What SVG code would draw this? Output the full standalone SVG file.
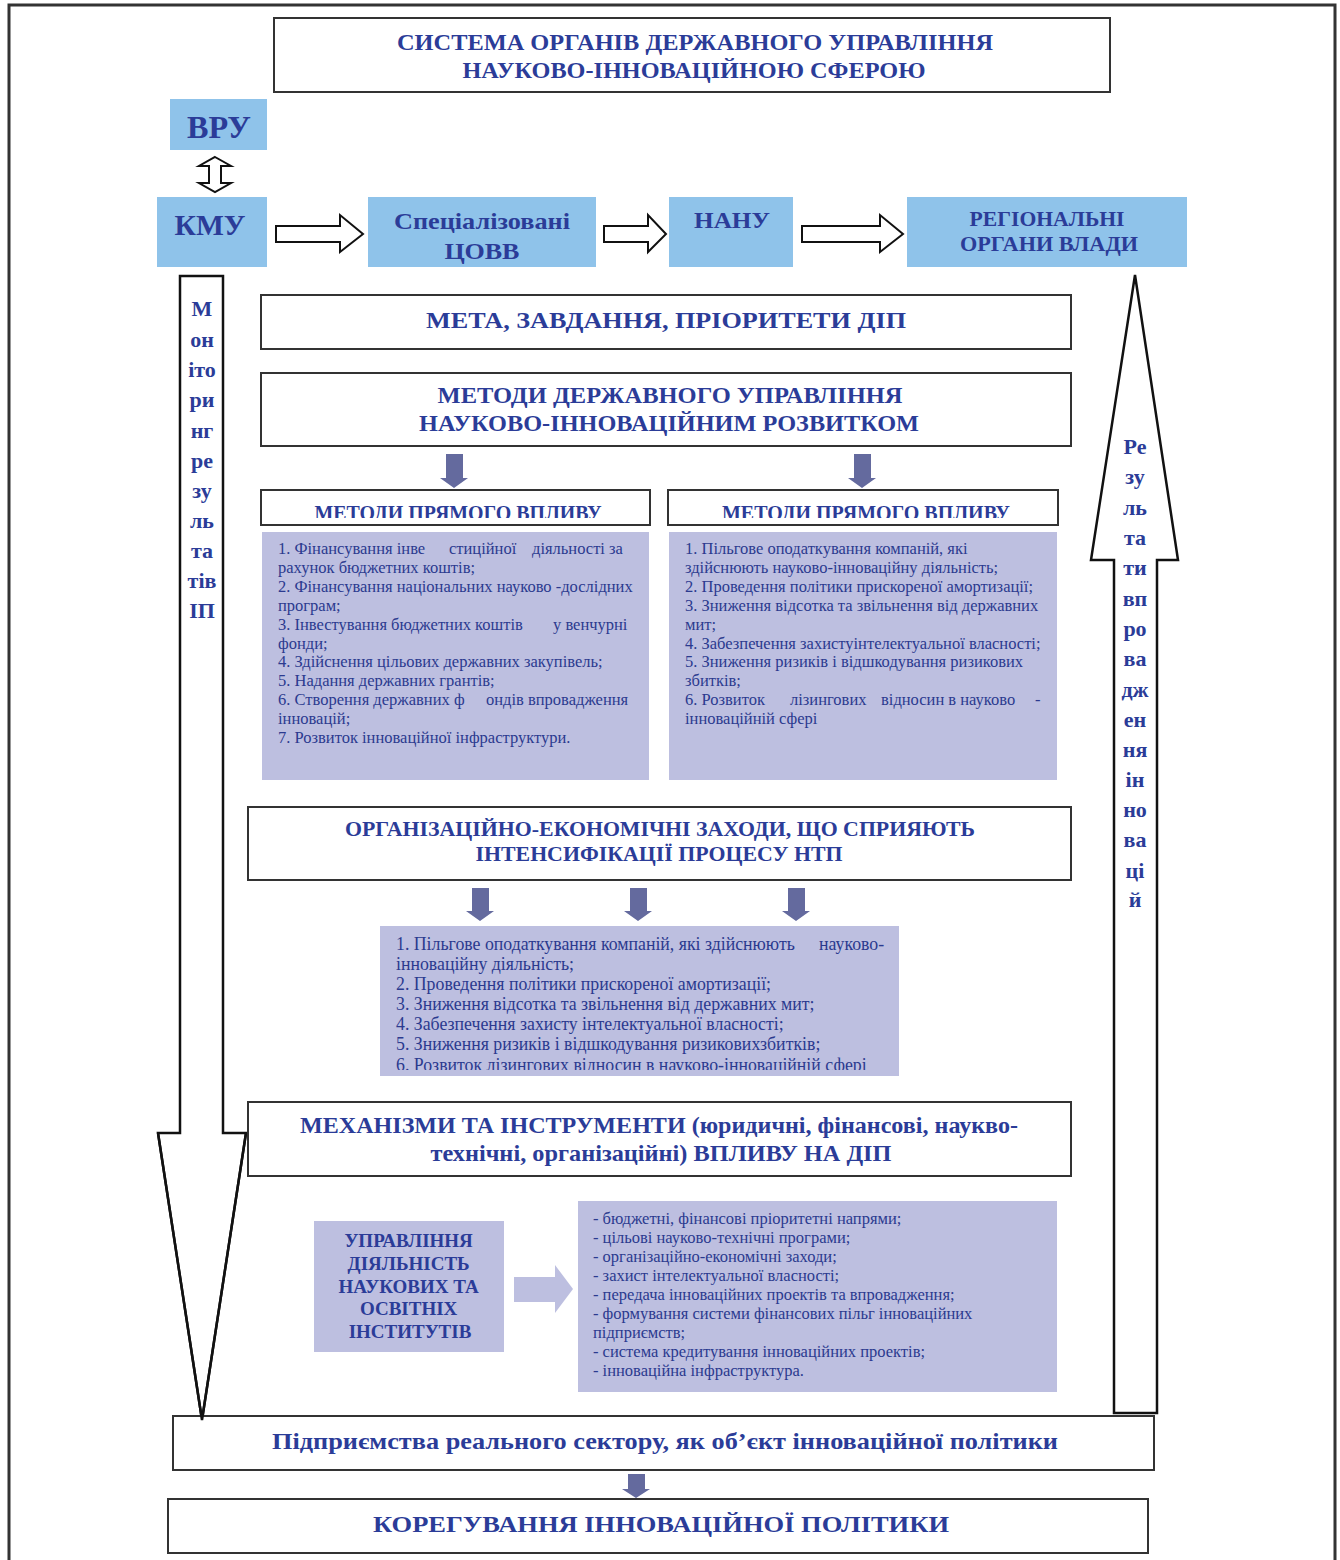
<svg xmlns="http://www.w3.org/2000/svg" width="1340" height="1560" viewBox="0 0 1340 1560">
<defs>
<style>
.frame{fill:none;stroke:#333;stroke-width:3}
.box{fill:#fff;stroke:#333;stroke-width:2}
.blue{fill:#8fc3ea}
.lav{fill:#bdbfe0}
.h{font-family:"Liberation Serif","Times New Roman",serif;font-weight:bold;fill:#2b3c98;text-anchor:middle}
.b{font-family:"Liberation Serif","Times New Roman",serif;fill:#2b3a8f;font-size:16.5px}
.hol{fill:#fff;stroke:#111;stroke-width:2}
.big{fill:#fff;stroke:#111;stroke-width:2.5}
.fa{fill:#646a9e}
</style>
<clipPath id="c1"><rect x="262" y="491" width="388" height="27"/></clipPath>
<clipPath id="c2"><rect x="669" y="491" width="388" height="27"/></clipPath>
<clipPath id="c3"><rect x="380" y="926" width="519" height="144"/></clipPath>
</defs>
<rect width="1340" height="1560" fill="#fff"/>
<path class="frame" d="M9,1560 L9,5 L1335,5 L1335,1560"/>

<g id="connectors">
<path class="hol" d="M215,157 L231,166 L221,166 L221,183 L231,183 L215,192 L199,183 L209,183 L209,166 L199,166 Z"/>
<path class="hol" d="M276,226 L340,226 L340,215 L363,234 L340,252 L340,242 L276,242 Z"/>
<path class="hol" d="M604,226 L648,226 L648,215 L666,234 L648,252 L648,242 L604,242 Z"/>
<path class="hol" d="M802,226 L880,226 L880,215 L903,234 L880,252 L880,242 L802,242 Z"/>
<path class="fa" d="M446,454 L463,454 L463,478 L468,478 L454,488 L440,478 L446,478 Z"/>
<path class="fa" d="M854,454 L871,454 L871,478 L876,478 L862,488 L848,478 L854,478 Z"/>
<path class="fa" d="M472,888 L489,888 L489,911 L494,911 L480,921 L466,911 L472,911 Z"/>
<path class="fa" d="M630,888 L647,888 L647,911 L652,911 L638,921 L624,911 L630,911 Z"/>
<path class="fa" d="M788,888 L805,888 L805,911 L810,911 L796,921 L782,911 L788,911 Z"/>
<path class="fa" d="M628,1474 L645,1474 L645,1489 L650,1489 L636,1498 L622,1489 L628,1489 Z"/>
<path class="lav" d="M514,1277 L555,1277 L555,1265 L573,1289 L555,1313 L555,1302 L514,1302 Z"/>
</g>

<g id="title">
<rect class="box" x="274" y="18" width="836" height="74"/>
<text class="h" x="695" y="50" font-size="23" textLength="596" lengthAdjust="spacingAndGlyphs">СИСТЕМА ОРГАНІВ ДЕРЖАВНОГО УПРАВЛІННЯ</text>
<text class="h" x="694" y="78" font-size="23" textLength="463" lengthAdjust="spacingAndGlyphs">НАУКОВО-ІННОВАЦІЙНОЮ СФЕРОЮ</text>
</g>

<g id="vru">
<rect class="blue" x="170" y="99" width="97" height="51"/>
<text class="h" x="219" y="138" font-size="31" textLength="64" lengthAdjust="spacingAndGlyphs">ВРУ</text>
</g>

<g id="kmu">
<rect class="blue" x="157" y="197" width="110" height="70"/>
<text class="h" x="210" y="235" font-size="29" textLength="71" lengthAdjust="spacingAndGlyphs">КМУ</text>
</g>

<g id="tsovv">
<rect class="blue" x="368" y="197" width="228" height="70"/>
<text class="h" x="482" y="229" font-size="24" textLength="176" lengthAdjust="spacingAndGlyphs">Спеціалізовані</text>
<text class="h" x="482" y="259" font-size="24" textLength="75" lengthAdjust="spacingAndGlyphs">ЦОВВ</text>
</g>

<g id="nanu">
<rect class="blue" x="669" y="197" width="124" height="70"/>
<text class="h" x="732" y="228" font-size="24" textLength="76" lengthAdjust="spacingAndGlyphs">НАНУ</text>
</g>

<g id="regional">
<rect class="blue" x="907" y="197" width="280" height="70"/>
<text class="h" x="1047" y="226" font-size="20" textLength="155" lengthAdjust="spacingAndGlyphs">РЕГІОНАЛЬНІ</text>
<text class="h" x="1049" y="251" font-size="20" textLength="178" lengthAdjust="spacingAndGlyphs">ОРГАНИ ВЛАДИ</text>
</g>

<g id="monitoring">
<path class="big" d="M180,276 L223,276 L223,1133 L246,1133 L202,1420 L158,1133 L180,1133 Z"/>
<text class="h" font-size="22">
<tspan x="202" y="316">М</tspan><tspan x="202" y="347">он</tspan><tspan x="202" y="377">іто</tspan><tspan x="202" y="407">ри</tspan><tspan x="202" y="438">нг</tspan><tspan x="202" y="468">ре</tspan><tspan x="202" y="498">зу</tspan><tspan x="202" y="528">ль</tspan><tspan x="202" y="558">та</tspan><tspan x="202" y="588">тів</tspan><tspan x="202" y="618">ІП</tspan>
</text>
</g>

<g id="results">
<path class="big" d="M1135,275 L1178,560 L1157,560 L1157,1413 L1114,1413 L1114,560 L1091,560 Z"/>
<text class="h" font-size="22">
<tspan x="1135" y="454">Ре</tspan><tspan x="1135" y="484">зу</tspan><tspan x="1135" y="515">ль</tspan><tspan x="1135" y="545">та</tspan><tspan x="1135" y="575">ти</tspan><tspan x="1135" y="606">вп</tspan><tspan x="1135" y="636">ро</tspan><tspan x="1135" y="666">ва</tspan><tspan x="1135" y="697">дж</tspan><tspan x="1135" y="727">ен</tspan><tspan x="1135" y="757">ня</tspan><tspan x="1135" y="787">ін</tspan><tspan x="1135" y="817">но</tspan><tspan x="1135" y="847">ва</tspan><tspan x="1135" y="878">ці</tspan><tspan x="1135" y="907">й</tspan>
</text>
</g>

<g id="goal">
<rect class="box" x="261" y="295" width="810" height="54"/>
<text class="h" x="666" y="328" font-size="24" textLength="480" lengthAdjust="spacingAndGlyphs">МЕТА, ЗАВДАННЯ, ПРІОРИТЕТИ ДІП</text>
</g>

<g id="methods">
<rect class="box" x="261" y="373" width="810" height="73"/>
<text class="h" x="670" y="403" font-size="23" textLength="465" lengthAdjust="spacingAndGlyphs">МЕТОДИ ДЕРЖАВНОГО УПРАВЛІННЯ</text>
<text class="h" x="669" y="431" font-size="23" textLength="500" lengthAdjust="spacingAndGlyphs">НАУКОВО-ІННОВАЦІЙНИМ РОЗВИТКОМ</text>
</g>

<g id="direct-left">
<rect class="box" x="261" y="490" width="389" height="35"/>
<text class="h" x="458" y="520" font-size="20" textLength="287" lengthAdjust="spacingAndGlyphs" clip-path="url(#c1)">МЕТОДИ ПРЯМОГО ВПЛИВУ</text>
</g>

<g id="direct-right">
<rect class="box" x="668" y="490" width="390" height="35"/>
<text class="h" x="866" y="520" font-size="20" textLength="288" lengthAdjust="spacingAndGlyphs" clip-path="url(#c2)">МЕТОДИ ПРЯМОГО ВПЛИВУ</text>
</g>

<g id="list-left">
<rect class="lav" x="262" y="532" width="387" height="248"/>
<text class="b">
<tspan x="278" y="554">1. Фінансування інве</tspan><tspan x="449" y="554">стиційної</tspan><tspan x="532" y="554">діяльності за</tspan>
<tspan x="278" y="573">рахунок бюджетних коштів;</tspan>
<tspan x="278" y="592">2. Фінансування національних науково -дослідних</tspan>
<tspan x="278" y="611">програм;</tspan>
<tspan x="278" y="630">3. Інвестування бюджетних коштів</tspan><tspan x="553" y="630">у венчурні</tspan>
<tspan x="278" y="649">фонди;</tspan>
<tspan x="278" y="667">4. Здійснення цільових державних закупівель;</tspan>
<tspan x="278" y="686">5. Надання державних грантів;</tspan>
<tspan x="278" y="705">6. Створення державних ф</tspan><tspan x="486" y="705">ондів впровадження</tspan>
<tspan x="278" y="724">інновацій;</tspan>
<tspan x="278" y="743">7. Розвиток інноваційної інфраструктури.</tspan>
</text>
</g>

<g id="list-right">
<rect class="lav" x="669" y="532" width="388" height="248"/>
<text class="b">
<tspan x="685" y="554">1. Пільгове оподаткування компаній, які</tspan>
<tspan x="685" y="573">здійснюють науково-інноваційну діяльність;</tspan>
<tspan x="685" y="592">2. Проведення політики прискореної амортизації;</tspan>
<tspan x="685" y="611">3. Зниження відсотка та звільнення від державних</tspan>
<tspan x="685" y="630">мит;</tspan>
<tspan x="685" y="649">4. Забезпечення захистуінтелектуальної власності;</tspan>
<tspan x="685" y="667">5. Зниження ризиків і відшкодування ризикових</tspan>
<tspan x="685" y="686">збитків;</tspan>
<tspan x="685" y="705">6. Розвиток</tspan><tspan x="790" y="705">лізингових</tspan><tspan x="881" y="705">відносин в науково</tspan><tspan x="1035" y="705">-</tspan>
<tspan x="685" y="724">інноваційній сфері</tspan>
</text>
</g>

<g id="org-measures">
<rect class="box" x="248" y="807" width="823" height="73"/>
<text class="h" x="660" y="836" font-size="21" textLength="630" lengthAdjust="spacingAndGlyphs">ОРГАНІЗАЦІЙНО-ЕКОНОМІЧНІ ЗАХОДИ, ЩО СПРИЯЮТЬ</text>
<text class="h" x="659" y="861" font-size="21" textLength="367" lengthAdjust="spacingAndGlyphs">ІНТЕНСИФІКАЦІЇ ПРОЦЕСУ НТП</text>
</g>

<g id="list-middle">
<rect class="lav" x="380" y="926" width="519" height="150"/>
<text class="b" style="font-size:17.8px" clip-path="url(#c3)">
<tspan x="396" y="950">1. Пільгове оподаткування компаній, які здійснюють</tspan><tspan x="819" y="950">науково-</tspan>
<tspan x="396" y="970">інноваційну діяльність;</tspan>
<tspan x="396" y="990">2. Проведення політики прискореної амортизації;</tspan>
<tspan x="396" y="1010">3. Зниження відсотка та звільнення від державних мит;</tspan>
<tspan x="396" y="1030">4. Забезпечення захисту інтелектуальної власності;</tspan>
<tspan x="396" y="1050">5. Зниження ризиків і відшкодування ризиковихзбитків;</tspan>
<tspan x="396" y="1071">6. Розвиток лізингових відносин в науково-інноваційній сфері</tspan>
</text>
</g>

<g id="mechanisms">
<rect class="box" x="248" y="1102" width="823" height="74"/>
<text class="h" x="659" y="1133" font-size="23" textLength="718" lengthAdjust="spacingAndGlyphs">МЕХАНІЗМИ ТА ІНСТРУМЕНТИ (юридичні, фінансові, наукво-</text>
<text class="h" x="661" y="1161" font-size="23" textLength="461" lengthAdjust="spacingAndGlyphs">технічні, організаційні) ВПЛИВУ НА ДІП</text>
</g>

<g id="management">
<rect class="lav" x="314" y="1221" width="190" height="131"/>
<text class="h" font-size="19">
<tspan x="411" y="1247">УПРАВЛІННЯ</tspan>
<tspan x="411" y="1270">ДІЯЛЬНІСТЬ</tspan>
<tspan x="411" y="1293">НАУКОВИХ ТА</tspan>
<tspan x="411" y="1315">ОСВІТНІХ</tspan>
<tspan x="410" y="1338">ІНСТИТУТІВ</tspan>
</text>
</g>

<g id="instruments">
<rect class="lav" x="578" y="1201" width="479" height="191"/>
<text class="b">
<tspan x="593" y="1224">- бюджетні, фінансові пріоритетні напрями;</tspan>
<tspan x="593" y="1243">- цільові науково-технічні програми;</tspan>
<tspan x="593" y="1262">- організаційно-економічні заходи;</tspan>
<tspan x="593" y="1281">- захист інтелектуальної власності;</tspan>
<tspan x="593" y="1300">- передача інноваційних проектів та впровадження;</tspan>
<tspan x="593" y="1319">- формування системи фінансових пільг інноваційних</tspan>
<tspan x="593" y="1338">підприємств;</tspan>
<tspan x="593" y="1357">- система кредитування інноваційних проектів;</tspan>
<tspan x="593" y="1376">- інноваційна інфраструктура.</tspan>
</text>
</g>

<g id="enterprises">
<rect class="box" x="173" y="1416" width="981" height="54"/>
<text class="h" x="665" y="1449" font-size="23" textLength="786" lengthAdjust="spacingAndGlyphs">Підприємства реального сектору, як об’єкт інноваційної політики</text>
</g>

<g id="correction">
<rect class="box" x="168" y="1499" width="980" height="54"/>
<text class="h" x="661" y="1532" font-size="24" textLength="576" lengthAdjust="spacingAndGlyphs">КОРЕГУВАННЯ ІННОВАЦІЙНОЇ ПОЛІТИКИ</text>
</g>

<path class="big" d="M158,1133 L202,1420 L246,1133" style="fill:none"/>
</svg>
